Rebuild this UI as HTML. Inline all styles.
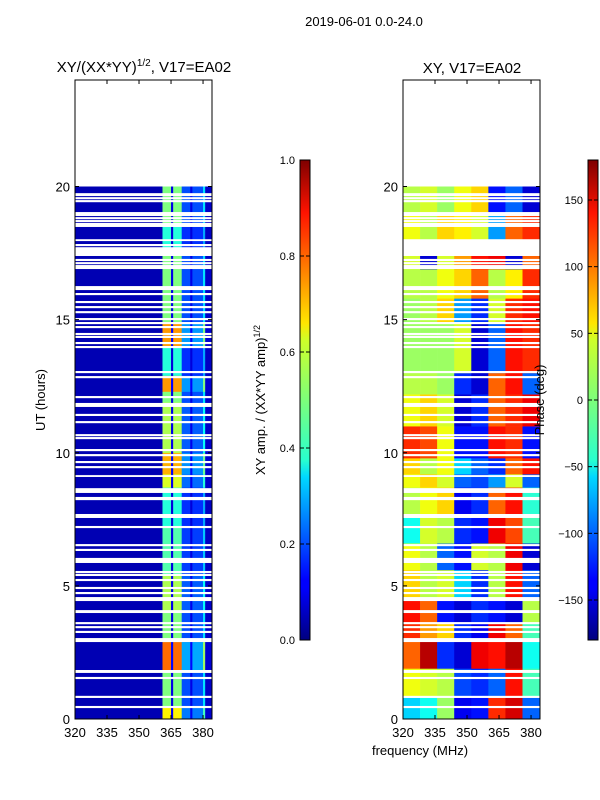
<!DOCTYPE html>
<html><head><meta charset="utf-8">
<style>
html,body{margin:0;padding:0;background:#fff;}
svg{display:block;font-family:"Liberation Sans","DejaVu Sans",sans-serif;}
</style></head>
<body>
<svg id="fig" width="600" height="800" viewBox="0 0 600 800">
<defs>
<linearGradient id="jetV" x1="0" y1="1" x2="0" y2="0">
<stop offset="0" stop-color="#00007f"/><stop offset="0.11" stop-color="#0000ff"/>
<stop offset="0.125" stop-color="#0000ff"/><stop offset="0.34" stop-color="#00d8ff"/>
<stop offset="0.375" stop-color="#29ffce"/><stop offset="0.5" stop-color="#7dff7a"/>
<stop offset="0.625" stop-color="#ceff29"/><stop offset="0.66" stop-color="#ffe600"/>
<stop offset="0.89" stop-color="#ff1300"/><stop offset="1" stop-color="#7f0000"/>
</linearGradient>
</defs>
<text x="364" y="26" font-size="13" text-anchor="middle">2019-06-01 0.0-24.0</text>
<text x="144" y="72" font-size="15" text-anchor="middle">XY/(XX*YY)<tspan font-size="10" dy="-6">1/2</tspan><tspan dy="6">, V17=EA02</tspan></text>
<text x="472" y="73" font-size="15" text-anchor="middle">XY, V17=EA02</text>
<g id="ampPlot"></g>
<g id="phPlot"></g>
<g id="axes"></g>
<text transform="translate(45,400) rotate(-90)" font-size="13" text-anchor="middle">UT (hours)</text>
<text transform="translate(265,400) rotate(-90)" font-size="13" text-anchor="middle">XY amp. / (XX*YY amp)<tspan font-size="9" dy="-5">1/2</tspan></text>
<text transform="translate(544,400) rotate(-90)" font-size="13" text-anchor="middle">Phase (deg)</text>
<text x="420" y="755" font-size="13" text-anchor="middle">frequency (MHz)</text>
<rect x="300" y="160" width="10" height="480" fill="url(#jetV)" stroke="#000" stroke-width="1"/>
<rect x="588" y="160" width="10" height="480" fill="url(#jetV)" stroke="#000" stroke-width="1"/>
<g id="cbars"></g>
</svg>
<script>
// ---- data ----
const ampEdges = [320,361,365,366,370,374,375,380,381,384.2];
const ampVals  = [0.05,0.5,0.1,0.5,0.2,0.1,0.2,0.35,0.07];
const ampBandStart = [0,0.45,1.5,1.8,2.9,4.1,5.4,7.2,8.7,9.2,10.0,11.9,12.3,12.9,14.0,14.9,17.7,18.6];
const ampBandEnd   = [0.45,1.5,1.8,2.9,4.1,5.4,7.2,8.7,9.2,10.0,11.9,12.3,12.9,14.0,14.9,17.7,18.6,20.0];
const ampBandMult  = [1.3,1.0,1.0,1.6,1.0,1.1,0.9,0.8,1.2,1.45,1.1,1.0,1.5,0.8,1.5,1.0,0.8,1.0];
const phEdges = [320,328,336,344,352,360,368,376,384.2];
const phBandStart = [0,0.85,1.9,3.0,3.6,4.5,5.6,6.6,7.7,8.7,9.2,9.8,11.0,12.2,13.0,14.9,15.8,16.9,18.0,19.0];
const phBandEnd   = [0.85,1.9,3.0,3.6,4.5,5.6,6.6,7.7,8.7,9.2,9.8,11.0,12.2,13.0,14.9,15.8,16.9,17.4,19.0,20.0];
const phVals = [
 [-60,-40,10,-140,-130,120,150,-100],
 [40,30,20,-110,-120,-100,130,-20],
 [100,160,-120,-150,140,130,160,-40],
 [120,80,60,-120,-140,140,100,-20],
 [130,100,-130,-150,-120,-130,-150,20],
 [60,20,30,-60,-120,20,130,-100],
 [40,20,-100,-130,30,20,140,-150],
 [-40,30,20,-120,-130,140,110,-20],
 [20,40,60,-140,-120,100,130,-30],
 [40,60,30,-100,-110,-80,30,-100],
 [60,20,40,-60,-100,-120,100,130],
 [120,110,40,-130,-130,130,120,-130],
 [40,60,30,-150,-120,100,120,140],
 [20,20,10,-120,-150,100,130,-100],
 [10,10,10,30,-150,-100,130,120],
 [10,20,60,-80,-120,30,120,130],
 [20,20,40,60,100,20,50,120],
 [30,-150,30,80,130,140,-150,100],
 [40,20,60,50,30,-80,100,120],
 [20,30,10,40,60,-130,-100,-150]
];
const gapStart = [19.64,19.52,19.41,18.89,18.77,18.66,18.48,17.95,17.76,17.39,17.20,17.08,16.97,16.90,16.18,16.11,15.92,15.62,15.43,15.24,14.98,14.83,14.68,14.42,14.31,14.08,13.93,12.99,12.80,12.05,11.72,11.38,11.11,10.62,10.51,10.06,9.87,9.61,9.42,9.09,8.49,8.22,7.62,7.55,7.17,6.49,6.31,5.86,5.48,5.37,5.18,4.88,4.69,4.50,4.43,3.98,3.56,3.41,3.23,2.89,1.73,1.50,0.79,0.41];
const gapEnd   = [19.75,19.60,19.49,19.04,18.85,18.74,18.63,18.02,17.84,17.72,17.28,17.16,17.05,16.98,16.26,16.19,16.00,15.70,15.51,15.32,15.06,14.91,14.76,14.50,14.39,14.16,14.01,13.07,12.88,12.13,11.87,11.46,11.19,10.70,10.59,10.14,9.95,9.69,9.50,9.16,8.67,8.34,7.70,7.63,7.25,6.57,6.39,6.05,5.56,5.45,5.26,4.96,4.77,4.58,4.51,4.09,3.64,3.49,3.31,3.04,1.84,1.58,0.87,0.49];
const xTicks = [320,335,350,365,380];
const yTicks = [0,5,10,15,20];
const ampCbTicks = [0.0,0.2,0.4,0.6,0.8,1.0];
const phCbTicks = [-150,-100,-50,0,50,100,150];

// ---- scales ----
const NS='http://www.w3.org/2000/svg';
const panels=[{x0:75,name:'amp'},{x0:403,name:'phase'}];
const PW=137, Y0=719, Y1=80;
function xs(f,x0){return x0+(f-320)/(384.2-320)*PW;}
function ys(h){return Y0-(h/24)*(Y0-Y1);}
function jet(v){v=Math.max(0,Math.min(1,v));
 const r=Math.min(4*v-1.5,-4*v+4.5),g=Math.min(4*v-0.5,-4*v+3.5),b=Math.min(4*v+0.5,-4*v+2.5);
 const c=t=>Math.round(255*Math.max(0,Math.min(1,t)));return `rgb(${c(r)},${c(g)},${c(b)})`;}
function mk(tag,attrs,parent){const e=document.createElementNS(NS,tag);for(const k in attrs)e.setAttribute(k,attrs[k]);parent.appendChild(e);return e;}

const ag=document.getElementById('ampPlot');
for(let b=0;b<ampBandStart.length;b++){
 for(let j=0;j<ampVals.length;j++){
  const bg=0.05, v=bg+(ampVals[j]-bg)*ampBandMult[b];
  const x=xs(ampEdges[j],75), x2=xs(ampEdges[j+1],75), y=ys(ampBandEnd[b]), y2=ys(ampBandStart[b]);
  const r=mk('rect',{x:x,y:y,width:x2-x+0.3,height:y2-y+0.3,fill:jet(v)},ag);
  
  
 }
}
const pg=document.getElementById('phPlot');
for(let b=0;b<phBandStart.length;b++){
 for(let j=0;j<phVals[b].length;j++){
  const v=(phVals[b][j]+180)/360;
  const x=xs(phEdges[j],403), x2=xs(phEdges[j+1],403), y=ys(phBandEnd[b]), y2=ys(phBandStart[b]);
  const r=mk('rect',{x:x,y:y,width:x2-x+0.3,height:y2-y+0.3,fill:jet(v)},pg);
  
  
 }
}
const axg=document.getElementById('axes');
panels.forEach(p=>{
 for(let i=0;i<gapStart.length;i++){
  const y=ys(gapEnd[i]), y2=ys(gapStart[i]);
  const r=mk('rect',{x:p.x0,y:y,width:PW,height:Math.max(1.2,y2-y),fill:'#fff'},axg);
  
  
 }
 const fr=mk('rect',{x:p.x0,y:Y1,width:PW,height:Y0-Y1,fill:'none',stroke:'#000','stroke-width':1},axg);
 
 
 xTicks.forEach(t=>{const x=xs(t,p.x0);
  mk('line',{x1:x,x2:x,y1:Y0,y2:Y0-4,stroke:'#000'},axg);
  mk('line',{x1:x,x2:x,y1:Y1,y2:Y1+4,stroke:'#000'},axg);
  const tx=mk('text',{x:x,y:737,'font-size':13,'text-anchor':'middle'},axg);tx.textContent=t;
  
  });
 yTicks.forEach(t=>{const y=ys(t);
  mk('line',{x1:p.x0,x2:p.x0+4,y1:y,y2:y,stroke:'#000'},axg);
  mk('line',{x1:p.x0+PW,x2:p.x0+PW-4,y1:y,y2:y,stroke:'#000'},axg);
  const tx=mk('text',{x:p.x0-5,y:y+5,'font-size':13,'text-anchor':'end'},axg);tx.textContent=t;
  
  });
});
const cg=document.getElementById('cbars');
ampCbTicks.forEach(t=>{const y=640-t*480;
 mk('line',{x1:300,x2:304,y1:y,y2:y,stroke:'#000'},cg);mk('line',{x1:310,x2:306,y1:y,y2:y,stroke:'#000'},cg);
 const tx=mk('text',{x:295,y:y+4,'font-size':11,'text-anchor':'end'},cg);tx.textContent=t.toFixed(1);
 
 });
phCbTicks.forEach(t=>{const y=640-(t+180)/360*480;
 mk('line',{x1:588,x2:592,y1:y,y2:y,stroke:'#000'},cg);mk('line',{x1:598,x2:594,y1:y,y2:y,stroke:'#000'},cg);
 const tx=mk('text',{x:583,y:y+4,'font-size':11,'text-anchor':'end'},cg);tx.textContent=String(t).replace('-','\u2212');
 
 });
</script>
</body></html>
